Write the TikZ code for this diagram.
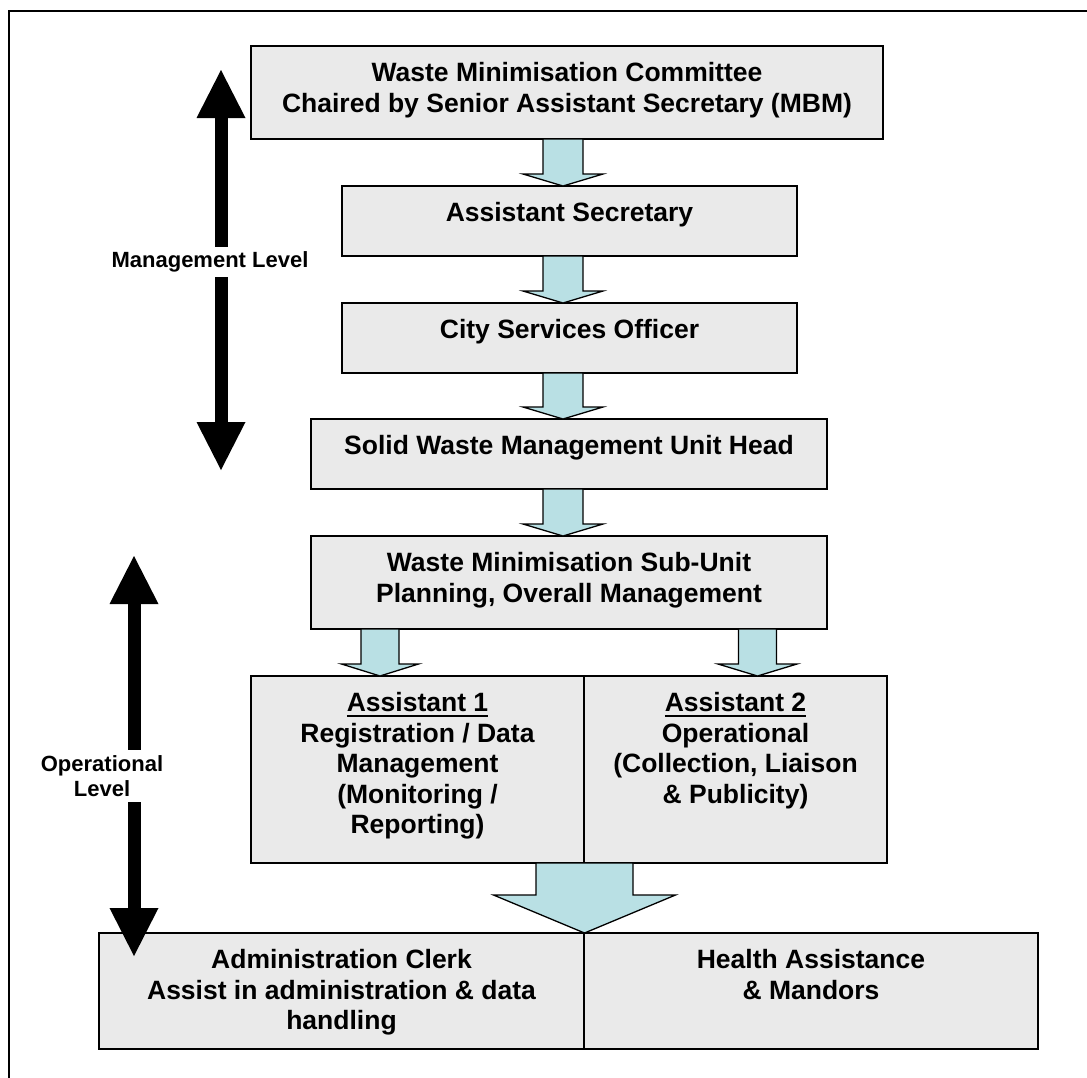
\documentclass[tikz,border=0pt]{standalone}
\usepackage{fontspec}
\setmainfont{Liberation Sans}
\usetikzlibrary{arrows.meta,calc}

\definecolor{boxgray}{RGB}{234,234,234}
\definecolor{flowblue}{RGB}{185,224,228}

\tikzset{
  post/.style={draw, line width=1.5pt, fill=boxgray, anchor=north west, inner sep=0pt, outer sep=0pt,
    text height=35.5pt, font=\bfseries\fontsize{26.5}{30.5}\selectfont},
  flow/.style={draw, line width=1.3pt, fill=flowblue},
  level/.style={line width=13pt, {Triangle[length=48pt,width=49pt,line width=0pt]}-{Triangle[length=48pt,width=49pt,line width=0pt]}},
  levellabel/.style={fill=white, inner xsep=2pt, inner ysep=5pt, align=center, font=\bfseries\fontsize{22}{25}\selectfont}
}
\newcommand{\boxlines}[1]{\begin{tabular}[t]{@{}c@{}}#1\end{tabular}}
\newcommand{\rolehead}[1]{\setbox0=\hbox{#1}\rlap{\rule[-5pt]{\wd0}{2pt}}\box0}

\begin{document}
\begin{tikzpicture}[x=1pt,y=-1pt]
\useasboundingbox (0,0) rectangle (1087,1077);
\draw[line width=1.3pt] (9,1090) -- (9,11) -- (1100,11);

% boxes
\node[post, minimum width=632pt, text depth=57.5pt] (cttee) at (251,46) {\boxlines{Waste Minimisation Committee\\Chaired by Senior Assistant Secretary (MBM)}};
\node[post, minimum width=455pt, text depth=34.5pt] (asec) at (342,186) {Assistant Secretary};
\node[post, minimum width=455pt, text depth=34.5pt] (cso) at (342,303) {City Services Officer};
\node[post, minimum width=516pt, text depth=34.5pt] (swm) at (311,419) {Solid Waste Management Unit Head};
\node[post, minimum width=516pt, text depth=57.5pt] (sub) at (311,536) {\boxlines{Waste Minimisation Sub-Unit\\Planning, Overall Management}};
\node[post, minimum width=333pt, text depth=151.5pt] (asst1) at (251,676) {\boxlines{\rolehead{Assistant 1}\\Registration / Data\\Management\\(Monitoring /\\Reporting)}};
\node[post, minimum width=303pt, text depth=151.5pt] (asst2) at (584,676) {\boxlines{\rolehead{Assistant 2}\\Operational\\(Collection, Liaison\\\& Publicity)}};
\node[post, minimum width=485pt, text depth=80.5pt] (clerk) at (99,933) {\boxlines{Administration Clerk\\Assist in administration \& data\\handling}};
\node[post, minimum width=454pt, text depth=80.5pt] (health) at (584,933) {\boxlines{Health Assistance\\\& Mandors}};

% block arrows
\foreach \from/\to/\ax/\sw/\hw/\hl in {cttee/asec/563/20/40/12, asec/cso/563/20/40/12, cso/swm/563/20/40/12,
    swm/sub/563/20/40/12, sub/asst1/380/19/38.5/12, sub/asst2/757.5/19/39.5/12, asst1/clerk/584.5/48.5/91/38}
  \draw[flow] ($(\from.south -| \ax,0)+(-\sw,0)$) -- ($(\to.north -| \ax,0)+(-\sw,-\hl)$)
    -- ($(\to.north -| \ax,0)+(-\hw,-\hl)$) -- (\to.north -| \ax,0) -- ($(\to.north -| \ax,0)+(\hw,-\hl)$)
    -- ($(\to.north -| \ax,0)+(\sw,-\hl)$) -- ($(\from.south -| \ax,0)+(\sw,0)$) -- cycle;

% level arrows
\coordinate (mtop) at (221,70);
\coordinate (mbot) at (221,470);
\coordinate (otop) at (134,556);
\coordinate (obot) at (134,956);
\draw[level] (mtop) -- (mbot);
\draw[level] (otop) -- (obot);
\node[levellabel] (mlevel) at (210,262) {Management Level};
\node[levellabel] (olevel) at (102,776) {Operational\\Level};
\end{tikzpicture}
\end{document}
